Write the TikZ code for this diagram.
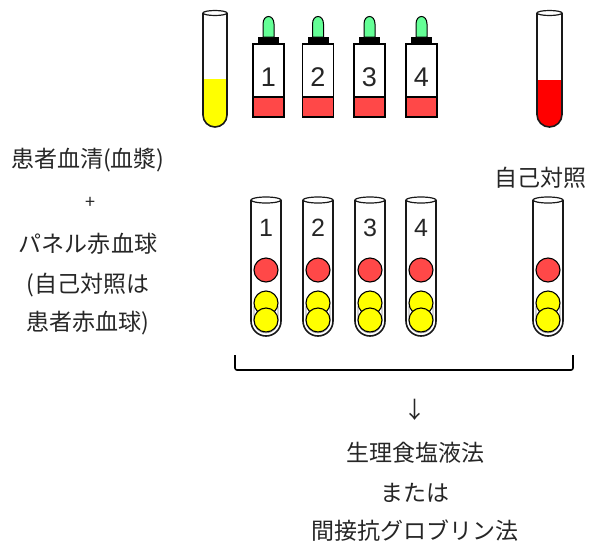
\documentclass[tikz,border=0pt]{standalone}
\usepackage{fontspec}
\usetikzlibrary{calc}
\setmainfont{Noto Sans CJK JP}
\newfontfamily\digitfont{Liberation Sans}
\definecolor{serum}{RGB}{255,255,0}
\definecolor{blood}{RGB}{255,0,0}
\definecolor{cellred}{RGB}{255,72,72}
\definecolor{flame}{RGB}{100,255,150}
\begin{document}
\begin{tikzpicture}[x=1pt,y=-1pt,
  lbl/.style={font=\fontsize{23}{27}\selectfont, inner sep=0pt, text=black!85},
  num/.style={font=\digitfont\fontsize{27}{30}\selectfont, inner sep=0pt, text=black!85},
  tubeline/.style={draw=black!90, line width=1.6pt},
  cellr/.style={draw=black, line width=1.1pt, fill=cellred},
  celly/.style={draw=black, line width=1.1pt, fill=serum},
]
\useasboundingbox (0,0) rectangle (589,547);

% upright test tube with liquid: centre x, width w, top, bottom, liquid top, colour
\newcommand\liquidtube[6]{%
  \fill[#6] (#1-#2/2,#5) -- (#1-#2/2,#4-#2/2) arc[start angle=180,end angle=0,radius=#2/2] -- (#1+#2/2,#5) -- cycle;
  \draw[tubeline] (#1-#2/2,#3) -- (#1-#2/2,#4-#2/2) arc[start angle=180,end angle=0,radius=#2/2] -- (#1+#2/2,#3);
  \draw[draw=black!90, line width=1.2pt] (#1,#3) ellipse[x radius=#2/2, y radius=2.5];
}

% empty test tube holding one red and two yellow cells, with a label
\newcommand\celltube[4]{%
  \draw[draw=black!45, line width=0.6pt] (#1-#2/2+3,306) -- (#1-#2/2+3,#3-#2/2) arc[start angle=180,end angle=0,radius=#2/2-3] -- (#1+#2/2-3,306);
  \draw[tubeline] (#1-#2/2,200) -- (#1-#2/2,#3-#2/2) arc[start angle=180,end angle=0,radius=#2/2] -- (#1+#2/2,200);
  \draw[draw=black!90, line width=1.2pt] (#1,200) ellipse[x radius=#2/2, y radius=3];
  \draw[cellr] (#1,270) circle[radius=12];
  \draw[celly] (#1,303) circle[radius=12];
  \draw[celly] (#1,320) circle[radius=12];
  \node[num, font=\digitfont\fontsize{25}{28}\selectfont] (#4) at (#1,228) {#4};
}

% reagent bottle with coloured band, cap and dropper tip
\newcommand\bottle[2]{%
  \fill[cellred] (#1-15.5,97) rectangle (#1+15.5,117);
  \draw[black, line width=1.4pt] (#1-15.5,44) rectangle (#1+15.5,117);
  \draw[black, line width=1.4pt] (#1-15.5,97) -- (#1+15.5,97);
  \fill[black] (#1-10.5,37) rectangle (#1+10.5,44);
  \draw[black, line width=1pt, fill=flame] (#1-5.5,37) -- (#1-5.5,24) .. controls (#1-5.5,14) and (#1+5.5,14) .. (#1+5.5,24) -- (#1+5.5,37) -- cycle;
  \node[num] (b#2) at (#1,77) {#2};
}

% serum tube and patient red cells
\liquidtube{215}{24}{13}{127}{79}{serum}
\liquidtube{549.5}{25}{13}{127}{80}{blood}

% panel cell bottles
\bottle{268.5}{1}
\bottle{318}{2}
\bottle{369.5}{3}
\bottle{421.5}{4}

% reaction tubes
\celltube{266}{30}{336}{1}
\celltube{318}{30}{336}{2}
\celltube{370}{30}{336}{3}
\celltube{421}{30}{336}{4}
\begin{scope}
\draw[draw=black!45, line width=0.6pt] (548-12,306) -- (548-12,336-15) arc[start angle=180,end angle=0,radius=12] -- (548+12,306);
\draw[tubeline] (533,200) -- (533,336-15) arc[start angle=180,end angle=0,radius=15] -- (563,200);
\draw[draw=black!90, line width=1.2pt] (548,200) ellipse[x radius=15, y radius=3];
\draw[cellr] (548,270) circle[radius=12];
\draw[celly] (548,303) circle[radius=12];
\draw[celly] (548,320) circle[radius=12];
\end{scope}

% labels
\node[lbl] (serum) at (88,160) {患者血清(血漿)};
\node[lbl, font=\fontsize{18}{20}\selectfont] (plus) at (90,203) {+};
\node[lbl] (panel) at (88,244) {パネル赤血球};
\node[lbl] (self1) at (88,285) {(自己対照は};
\node[lbl] (self2) at (88,323) {患者赤血球)};
\node[lbl] (auto) at (540,178) {自己対照};

% bracket gathering all tubes
\coordinate (bl) at (235,355);
\coordinate (br) at (573,355);
\draw[black, line width=1.6pt, rounded corners=2pt] (bl) -- ++(0,15) -- ($(br)+(0,15)$) -- (br);

% methods
\node[lbl] (arrow) at (415,410) {↓};
\node[lbl] (m1) at (415,453) {生理食塩液法};
\node[lbl] (m2) at (415,493) {または};
\node[lbl] (m3) at (415,531) {間接抗グロブリン法};
\end{tikzpicture}
\end{document}
